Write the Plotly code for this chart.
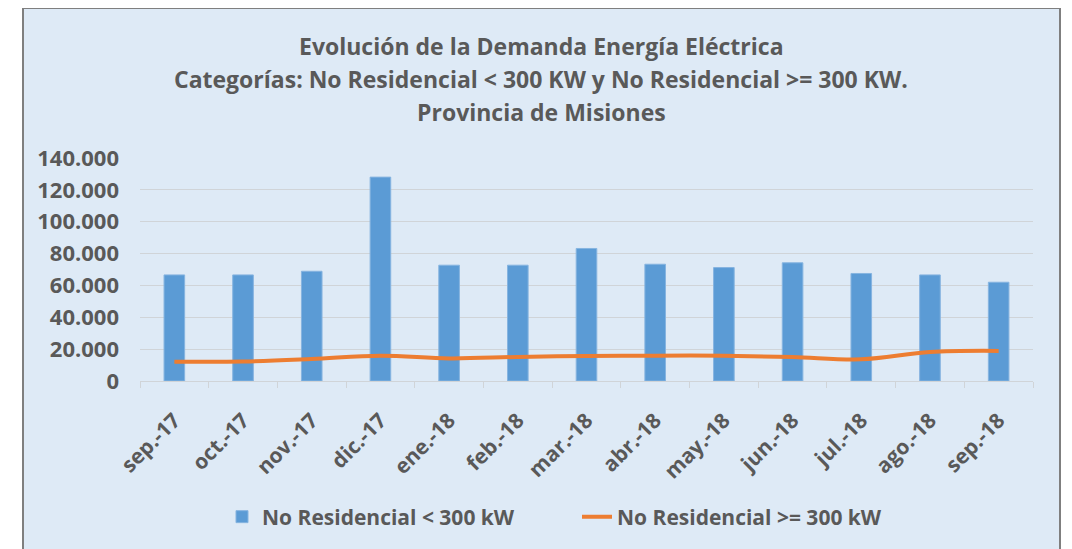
import plotly.graph_objects as go

categories = ["sep.-17", "oct.-17", "nov.-17", "dic.-17", "ene.-18", "feb.-18", "mar.-18",
              "abr.-18", "may.-18", "jun.-18", "jul.-18", "ago.-18", "sep.-18"]
bajo_300 = [66600, 66600, 68900, 128000, 72700, 72700, 83200, 73300, 71200, 74200, 67500, 66600, 62000]
sobre_300 = [12100, 12200, 13800, 15900, 14200, 15100, 15700, 15900, 15900, 15100, 13600, 18200, 18900]
y_ticks = [0, 20000, 40000, 60000, 80000, 100000, 120000, 140000]
title_lines = ["Evolución de la Demanda Energía Eléctrica",
               "Categorías: No Residencial < 300 KW y No Residencial >= 300 KW.",
               "Provincia de Misiones"]

W, H = 1072, 549
OFF = 8  # page offset of the figure inside the browser window
L = 140 - OFF
T = 158 - OFF
B = H - (381 - OFF)
R = W - (1033 - OFF)
pw, ph = W - L - R, H - T - B
FONT = "Open Sans"
GRAY = "#595959"

def px_to_paper_x(px):
    return (px - OFF - L) / pw

def px_to_paper_y(py):
    return (H - B - (py - OFF)) / ph

fig = go.Figure()
fig.add_trace(go.Bar(x=categories, y=bajo_300, name="No Residencial < 300 kW",
                     marker=dict(color="#5B9BD5", line=dict(color="#86B4E0", width=1))))
fig.add_trace(go.Scatter(x=categories, y=sobre_300, name="No Residencial >= 300 kW",
                         mode="lines", line=dict(color="#ED7D31", width=4, shape="spline")))

fig.add_shape(type="rect", xref="paper", yref="paper",
              x0=px_to_paper_x(23), x1=px_to_paper_x(1060),
              y0=px_to_paper_y(570), y1=px_to_paper_y(8),
              fillcolor="#DEEAF6", line=dict(color="#7F7F7F", width=2), layer="below")

for txt, yc in zip(title_lines, [46, 79, 112]):
    fig.add_annotation(text=txt, xref="paper", yref="paper",
                       x=px_to_paper_x(541), y=px_to_paper_y(yc),
                       xanchor="center", yanchor="middle", showarrow=False,
                       font=dict(family=FONT, size=23, color=GRAY, weight="bold"))

fig.update_layout(
    width=W, height=H,
    margin=dict(l=L, r=R, t=T, b=B, autoexpand=False),
    paper_bgcolor="white", plot_bgcolor="rgba(0,0,0,0)",
    separators=",.",
    bargap=0.7,
    showlegend=True,
    legend=dict(orientation="h", xref="container", yref="container",
                x=(263 - OFF - 41) / W, xanchor="left",
                y=1 - (517 - OFF) / H, yanchor="middle",
                font=dict(family=FONT, size=21, color=GRAY, weight="bold"),
                bgcolor="rgba(0,0,0,0)", entrywidth=310, itemwidth=30),
    font=dict(family=FONT, color=GRAY),
)
fig.update_xaxes(showline=True, linecolor="#D0D4D8", linewidth=1,
                 ticks="outside", tickson="boundaries", ticklen=6, tickcolor="#D0D4D8",
                 tickangle=-45, ticklabelstandoff=18,
                 tickfont=dict(family=FONT, size=21, color=GRAY, weight="bold"),
                 showgrid=False)
fig.update_yaxes(range=[0, 140000], tickvals=y_ticks, tickformat=",d",
                 showgrid=True, gridcolor="#D0D4D8", gridwidth=1, zeroline=False,
                 showline=False, ticklabelstandoff=20,
                 tickfont=dict(family=FONT, size=22, color=GRAY, weight="bold"))

fig.write_html("out.html")
